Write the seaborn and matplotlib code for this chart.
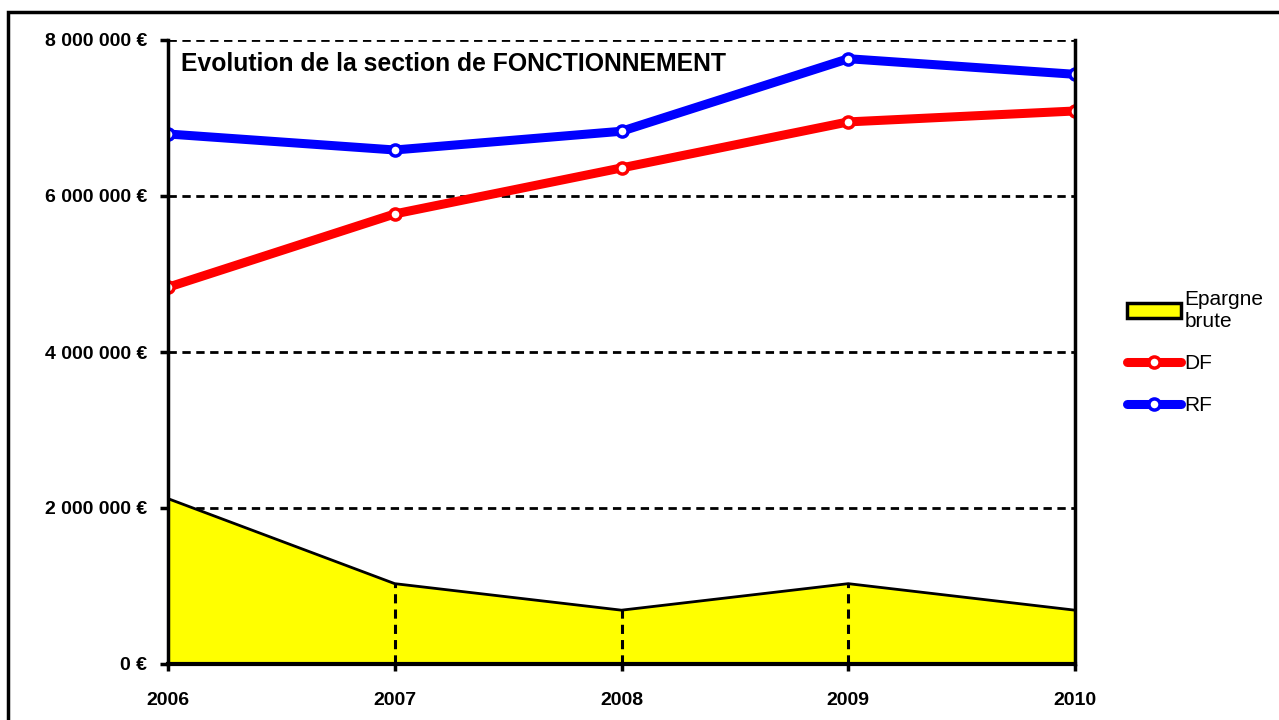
import numpy as np
import pandas as pd
import matplotlib
matplotlib.use("Agg")
import matplotlib.pyplot as plt
import seaborn as sns
from matplotlib.patches import Patch, Rectangle
from matplotlib.lines import Line2D
from matplotlib.ticker import FuncFormatter

years = [2006, 2007, 2008, 2009, 2010]
rf_values = [6795000, 6590000, 6830000, 7760000, 7560000]
df_values = [4830000, 5770000, 6360000, 6950000, 7090000]
epargne_values = [2120000, 1030000, 690000, 1030000, 690000]
y_ticks = [0, 2000000, 4000000, 6000000, 8000000]

chart_title = "Evolution de la section de FONCTIONNEMENT"
series_labels = ["Epargne\nbrute", "DF", "RF"]


def build_data_frame():
    data_frame = pd.DataFrame({'year': years, 'RF': rf_values, 'DF': df_values, 'Epargne': epargne_values})
    return data_frame


def euro_format(value, pos):
    return "{:,.0f}".format(value).replace(",", " ") + " €"


sns.set_style("white")
plt.rcParams['font.family'] = ['Liberation Sans', 'DejaVu Sans']
plt.rcParams['text.color'] = 'black'
plt.rcParams['xtick.color'] = 'black'
plt.rcParams['ytick.color'] = 'black'

fig = plt.figure(figsize=(12.79, 7.2), dpi=100)
ax = fig.add_axes([168 / 1279, 1 - 664 / 720, (1075 - 168) / 1279, (664 - 40) / 720])

data = build_data_frame()

# area for epargne brute, with drop lines
ax.fill_between(data['year'], 0, data['Epargne'], facecolor='#ffff00', edgecolor='none', zorder=2)
ax.plot(data['year'], data['Epargne'], color='black', lw=2, zorder=3)
ax.vlines(data['year'][1:4], 0, data['Epargne'][1:4], colors='black', linestyles=(0, (3, 2)), lw=2.2, zorder=3)

line_style = dict(lw=6.5, marker='o', markersize=8, markerfacecolor='white', markeredgewidth=2.5, zorder=5)
sns.lineplot(x='year', y='DF', data=data, ax=ax, color='#ff0000', markeredgecolor='#ff0000', **line_style)
sns.lineplot(x='year', y='RF', data=data, ax=ax, color='#0000ff', markeredgecolor='#0000ff', **line_style)

ax.set_xlim(years[0], years[-1])
ax.set_ylim(y_ticks[0], y_ticks[-1])
ax.set_xticks(years)
ax.set_xticklabels([str(y) for y in years])
ax.set_yticks(y_ticks)
ax.yaxis.set_major_formatter(FuncFormatter(euro_format))
ax.set_xlabel("")
ax.set_ylabel("")

ax.yaxis.grid(True, color='black', linestyle=(0, (3, 2)), lw=2)
ax.set_axisbelow(True)

for side in ['left', 'right', 'bottom']:
    ax.spines[side].set_visible(True)
    ax.spines[side].set_color('black')
    ax.spines[side].set_linewidth(2.5)
    ax.spines[side].set_zorder(6)
ax.spines['bottom'].set_linewidth(3)
ax.spines['top'].set_visible(False)

ax.tick_params(axis='y', direction='out', length=6, width=2.5, pad=9, labelsize=14, left=True)
ax.tick_params(axis='x', direction='out', length=5, width=2.5, pad=15, labelsize=14, bottom=True)
for label in ax.get_xticklabels() + ax.get_yticklabels():
    label.set_fontweight('bold')

ax.text(13 / 907, 0.962, chart_title, transform=ax.transAxes, fontsize=17.8, fontweight='bold',
        ha='left', va='center', zorder=7)

handles = [Patch(facecolor='#ffff00', edgecolor='black', lw=2.5),
           Line2D([], [], color='#ff0000', lw=6.5, marker='o', markersize=8, markerfacecolor='white',
                  markeredgecolor='#ff0000', markeredgewidth=2.5),
           Line2D([], [], color='#0000ff', lw=6.5, marker='o', markersize=8, markerfacecolor='white',
                  markeredgecolor='#0000ff', markeredgewidth=2.5)]
fig.legend(handles, series_labels, loc='upper left', bbox_to_anchor=(1127 / 1279, 1 - 290 / 720),
           frameon=False, fontsize=15, handlelength=2.6, handletextpad=0.15, labelspacing=1.1,
           borderpad=0, borderaxespad=0)

# outer chart border
fig.patches.append(Rectangle((8 / 1279, -0.1), 1.2, 1.1 - 12 / 720, transform=fig.transFigure,
                             fill=False, edgecolor='black', lw=2.5))

plt.savefig('out.png', dpi=100)
